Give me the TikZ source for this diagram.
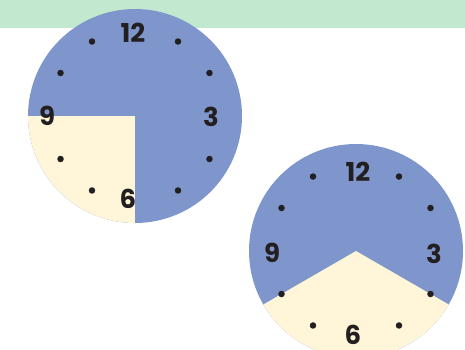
\documentclass[tikz,border=0pt]{standalone}
\usepackage{fontspec}
\setmainfont{Poppins}
\usepackage{tikz}
\usetikzlibrary{calc}
\definecolor{bandGreen}{HTML}{C3E8D0}
\definecolor{faceBlue}{HTML}{7F96CC}
\definecolor{faceCream}{HTML}{FFF5D9}
\definecolor{inkDark}{HTML}{231F20}

\begin{document}
\begin{tikzpicture}[x=1pt, y=1pt,
  hour/.style={font=\fontsize{26}{26}\selectfont\bfseries, text=inkDark, inner sep=0pt},
  tick/.style={circle, fill=inkDark, minimum size=6.5pt, inner sep=0pt},
]
  \useasboundingbox (0,0) rectangle (465,349);
  \clip (0,0) rectangle (465,349);

  % Top band
  \fill[bandGreen] (0,321) rectangle (465,349);

  % Clock 1
  \coordinate (c1) at (135,233);
  \fill[faceBlue] (c1) circle (107);
  \begin{scope}
    \clip (c1) circle (107);
    \fill[faceCream] (c1) rectangle +(-110,-110);
  \end{scope}
  \foreach \a in {30,60,120,150,210,240,300,330}
    \node[tick] (c1-tick-\a) at ($(c1)+(\a:86)$) {};
  \node[hour] (c1-twelve) at ($(c1)+(-2,83)$)  {12};
  \node[hour] (c1-three)  at ($(c1)+(76,-1)$)  {3};
  \node[hour] (c1-six)    at ($(c1)+(-7,-83)$) {6};
  \node[hour] (c1-nine)   at ($(c1)+(-88,0)$)  {9};

  % Clock 2
  \coordinate (c2) at (356,98);
  \fill[faceBlue] (c2) circle (107);
  \begin{scope}
    \clip (c2) circle (107);
    \fill[faceCream] (c2) -- +(210:130) -- +(-130,-130) -- +(130,-130) -- +(330:130) -- cycle;
  \end{scope}
  \foreach \a in {30,60,120,150,210,240,300,330}
    \node[tick] (c2-tick-\a) at ($(c2)+(\a:86)$) {};
  \node[hour] (c2-twelve) at ($(c2)+(2,79)$)   {12};
  \node[hour] (c2-three)  at ($(c2)+(78,-3)$)  {3};
  \node[hour] (c2-six)    at ($(c2)+(-3,-84)$) {6};
  \node[hour] (c2-nine)   at ($(c2)+(-84,-2)$) {9};
\end{tikzpicture}
\end{document}
